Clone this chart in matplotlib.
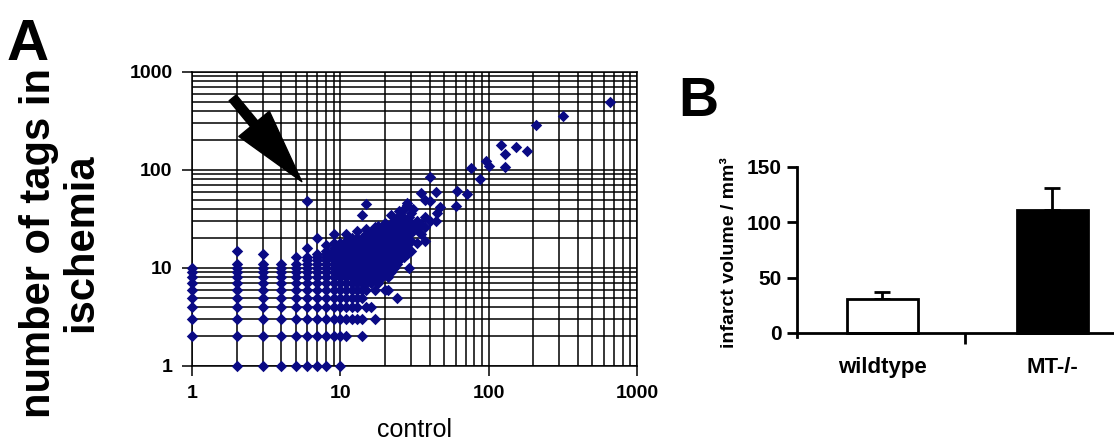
import numpy as np
import matplotlib
matplotlib.use("Agg")
import matplotlib.pyplot as plt
from matplotlib.ticker import LogLocator, NullFormatter, FixedLocator

plt.rcParams['font.family'] = ['Liberation Sans', 'DejaVu Sans']

# panel A: tag counts, control (x) vs ischemia (y), grouped by control count
control = [1, 2, 3, 4, 5, 6, 7, 8, 9, 10, 11, 12, 13, 14, 15, 16, 17, 18, 19, 20,
           21, 22, 23, 24, 25, 26, 27, 28, 29, 30, 31, 33, 35, 37, 40, 44, 45, 47,
           60, 61, 71, 76, 88, 96, 100, 122, 129, 153, 180, 210, 315, 660]
ischemia = [
    [2, 3, 4, 5, 6, 7, 8, 9, 10],
    [1, 2, 3, 4, 5, 6, 7, 8, 9, 10, 11, 15],
    [1, 2, 3, 4, 5, 6, 7, 8, 9, 10, 11, 14],
    [1, 2, 3, 4, 5, 6, 7, 8, 9, 10, 11],
    [1, 2, 3, 4, 5, 6, 7, 8, 9, 10, 11, 13],
    [1, 2, 3, 4, 5, 6, 7, 8, 9, 10, 11, 12, 13, 16, 48],
    [1, 2, 3, 4, 5, 6, 7, 8, 9, 10, 11, 12, 13, 14, 20],
    [1, 2, 3, 4, 5, 6, 7, 8, 9, 10, 11, 12, 13, 14, 15, 17],
    [2, 3, 4, 5, 6, 7, 8, 9, 10, 11, 12, 13, 14, 15, 16, 18, 22],
    [1, 2, 3, 4, 5, 6, 7, 8, 9, 10, 11, 12, 13, 14, 15, 16, 17, 18],
    [2, 3, 4, 5, 6, 7, 8, 9, 10, 11, 12, 13, 14, 15, 16, 17, 18, 19, 22],
    [3, 4, 5, 6, 7, 8, 9, 10, 11, 12, 13, 14, 15, 16, 17, 18, 20],
    [3, 4, 5, 6, 7, 8, 9, 10, 11, 12, 13, 14, 15, 16, 17, 18, 19, 20, 24],
    [2, 3, 5, 6, 7, 8, 9, 10, 11, 12, 13, 14, 15, 16, 17, 18, 20, 35],
    [4, 6, 7, 8, 9, 10, 11, 12, 13, 14, 15, 16, 17, 18, 19, 20, 22, 25, 45],
    [4, 7, 8, 9, 10, 11, 12, 13, 14, 15, 16, 17, 18, 20, 23],
    [3, 6, 8, 9, 10, 11, 12, 13, 14, 15, 16, 17, 19, 21, 26],
    [7, 9, 10, 11, 12, 13, 14, 15, 16, 18, 20, 22, 27],
    [8, 10, 11, 12, 14, 15, 16, 17, 19, 21, 24],
    [6, 9, 10, 12, 13, 14, 15, 16, 18, 20, 22, 25, 29],
    [6, 8, 11, 12, 14, 16, 17, 19, 21, 23, 26],
    [9, 11, 13, 15, 17, 18, 20, 22, 24, 28, 35],
    [10, 12, 14, 16, 19, 21, 25, 30],
    [5, 11, 13, 15, 18, 20, 23, 27, 32],
    [12, 14, 17, 19, 22, 26, 30, 38],
    [13, 16, 20, 24, 28, 34],
    [13, 15, 18, 21, 25, 31, 40],
    [14, 17, 20, 23, 27, 44, 46],
    [10, 18, 22, 26, 33],
    [15, 19, 24, 29, 36],
    [24, 27, 40],
    [18, 25, 30],
    [22, 28, 58],
    [19, 26, 33, 50],
    [30, 48, 84],
    [30, 60],
    [36],
    [42],
    [43],
    [61],
    [57],
    [104],
    [80],
    [124],
    [110],
    [180],
    [108, 146],
    [170],
    [157],
    [285],
    [355],
    [500],
]

# panel B: infarct volume
groups = ["wildtype", "MT-/-"]
volume = [31, 111]
volume_err = [6, 20]

xs = []
ys = []
for c, vals in zip(control, ischemia):
    for v in vals:
        xs.append(c)
        ys.append(v)

fig = plt.figure(figsize=(11.14, 4.47), dpi=100)

# ---- panel A
axA = fig.add_axes([192 / 1114, 1 - 366 / 447, 445 / 1114, 294 / 447])
axA.set_xscale('log')
axA.set_yscale('log')
axA.set_xlim(1, 1000)
axA.set_ylim(1, 1000)
axA.xaxis.set_major_locator(FixedLocator([1, 10, 100, 1000]))
axA.yaxis.set_major_locator(FixedLocator([1, 10, 100, 1000]))
axA.xaxis.set_minor_locator(LogLocator(base=10, subs=np.arange(2, 10)))
axA.yaxis.set_minor_locator(LogLocator(base=10, subs=np.arange(2, 10)))
axA.xaxis.set_minor_formatter(NullFormatter())
axA.yaxis.set_minor_formatter(NullFormatter())
axA.set_xticklabels(["1", "10", "100", "1000"])
axA.set_yticklabels(["1", "10", "100", "1000"])
axA.grid(True, which='both', color='black', linewidth=1.1)
axA.tick_params(which='major', direction='out', length=7, width=1.1,
                labelsize=14, pad=7)
axA.tick_params(which='minor', length=0)
for lab in axA.get_xticklabels() + axA.get_yticklabels():
    lab.set_fontweight('bold')
for sp in axA.spines.values():
    sp.set_linewidth(1.1)
axA.set_axisbelow(True)

axA.scatter(xs, ys, marker='D', s=34, color='#0a0a84', zorder=3,
            clip_on=False, linewidths=0)

# arrow pointing at the outlier
axA.annotate("", xy=(5.5, 76), xytext=(1.88, 545),
             arrowprops=dict(arrowstyle='simple,head_length=1.8,head_width=0.95,tail_width=0.22',
                             fc='black', ec='black', mutation_scale=30,
                             shrinkA=0, shrinkB=0), zorder=4)

axA.set_xlabel("control", fontsize=18, labelpad=11)

fig.text(60 / 1114, 1 - 243 / 447, "number of tags in\nischemia",
         rotation=90, ha='center', va='center', multialignment='center',
         fontsize=30, fontweight='bold', linespacing=1.05)
fig.text(28 / 1114, 1 - 45 / 447, "A", ha='center', va='center',
         fontsize=42, fontweight='bold')

# ---- panel B
axB = fig.add_axes([797 / 1114, 1 - 337.4 / 447, 330 / 1114, 170.4 / 447])
pos = np.arange(len(groups))
axB.bar(pos, volume, width=0.418, color=['white', 'black'],
        edgecolor='black', linewidth=2, zorder=2)
axB.errorbar(pos, volume, yerr=[[0, 0], volume_err], fmt='none',
             ecolor='black', elinewidth=2, capsize=6, capthick=2, zorder=1)
axB.set_xlim(-0.5, 1.44)
axB.set_ylim(-4, 150)
axB.spines['top'].set_visible(False)
axB.spines['right'].set_visible(False)
axB.spines['bottom'].set_position(('data', 0))
axB.spines['left'].set_linewidth(2)
axB.spines['bottom'].set_linewidth(2)
axB.set_yticks([0, 50, 100, 150])
axB.set_xticks(pos)
axB.set_xticklabels(groups)
axB.xaxis.set_minor_locator(FixedLocator([0.49]))
axB.tick_params(axis='x', which='major', length=0, labelsize=16, pad=17)
axB.tick_params(axis='x', which='minor', direction='out', length=8, width=2)
axB.tick_params(axis='y', direction='out', length=7, width=2, labelsize=15, pad=4)
for lab in axB.get_xticklabels() + axB.get_yticklabels():
    lab.set_fontweight('bold')
axB.set_ylabel("infarct volume / mm³", fontsize=14, fontweight='bold', labelpad=6)

fig.text(698 / 1114, 1 - 102 / 447, "B", ha='center', va='center',
         fontsize=40, fontweight='bold')

fig.savefig("out.png", dpi=100, facecolor='white')
